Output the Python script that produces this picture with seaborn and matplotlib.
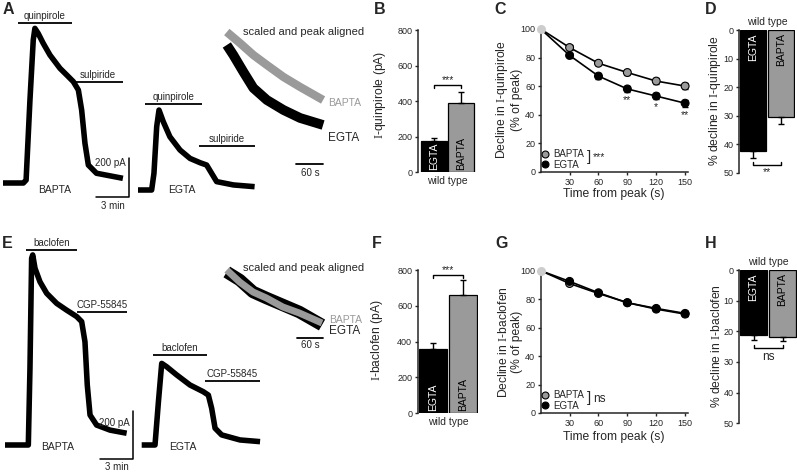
import numpy as np
import pandas as pd
import matplotlib
matplotlib.use("Agg")
import matplotlib.pyplot as plt
from matplotlib.lines import Line2D
import seaborn as sns

# ---------------- values ----------------
# A: quinpirole recordings (time in min, current in pA)
qb_t = [0, 1.85, 2.1, 2.45, 2.75, 2.9, 3.2, 3.66, 4.27, 5.18, 5.79, 6.39, 6.85, 7.15, 7.45, 7.76, 8.5, 10.9]
qb_i = [0, 0, 15, 425, 733, 793, 767, 716, 656, 588, 554, 520, 477, 374, 204, 92, 50, 24]
qe_t = [0, 1.24, 1.45, 1.7, 1.91, 2.3, 2.9, 3.82, 4.73, 5.64, 6.24, 6.7, 7.15, 8.67, 10.6]
qe_i = [0, 0, 85, 325, 410, 350, 273, 205, 162, 140, 128, 85, 43, 26, 17]
qb_quin = (1.36, 6.27)
qb_sulp = (6.27, 10.9)
qe_quin = (0.64, 5.82)
qe_sulp = (5.55, 10.64)
# A inset: scaled and peak aligned (s, scaled units)
qsc_b_t = [4, 33, 63, 93, 130, 167, 218]
qsc_b = [96, 85, 73, 63, 51, 41, 28]
qsc_e_t = [4, 18.5, 41, 63, 93, 130, 167, 218]
qsc_e = [83, 73, 56, 40, 28, 18, 10, 3]

# E: baclofen recordings
bb_t = [0, 2.12, 2.27, 2.42, 2.52, 2.73, 3.18, 3.79, 4.7, 5.6, 6.52, 6.97, 7.27, 7.48, 7.73, 8.33, 9.55, 11.06]
bb_i = [0, 0, 320, 778, 792, 736, 680, 632, 590, 562, 535, 514, 430, 250, 125, 83, 62, 49]
be_t = [0, 1.21, 1.52, 1.82, 2.27, 3.18, 4.39, 5.6, 6.06, 6.36, 6.67, 7.27, 8.94, 10.76]
be_i = [0, 0, 180, 340, 326, 292, 250, 222, 208, 153, 70, 42, 21, 14]
bb_bac = (1.91, 6.55)
bb_cgp = (6.55, 11.09)
be_bac = (1.03, 5.94)
be_cgp = (5.75, 10.75)
bsc_t = [4, 33, 63, 93, 130, 167, 218]
bsc_b = [100, 88, 78, 72, 63, 57, 47]
bsc_e = [98, 90, 78, 72, 65, 58, 45]

# bar charts
conds = ["EGTA", "BAPTA"]
quin_amp = [175, 392]
quin_amp_err = [19, 60]
quin_dec = [42.3, 30.6]
quin_dec_err = [2.4, 2.4]
bac_amp = [359, 660]
bac_amp_err = [32, 83]
bac_dec = [21.3, 21.9]
bac_dec_err = [1.5, 1.4]

# decline over time (% of peak)
time_s = [0, 30, 60, 90, 120, 150]
quin_bapta = [100, 87, 76, 69.5, 63.5, 60]
quin_bapta_err = [0, 1.5, 1.5, 2, 2, 2]
quin_egta = [100, 81.5, 67, 58, 53, 48]
quin_egta_err = [0, 1.5, 2, 2, 2, 2.5]
quin_stars = {90: "**", 120: "*", 150: "**"}
bac_bapta = [100, 91, 84, 77.5, 73, 69.5]
bac_bapta_err = [0, 1, 1, 1, 1, 1]
bac_egta = [100, 92.5, 84.5, 77.5, 73.5, 70]
bac_egta_err = [0, 1.2, 1.2, 1.2, 1.2, 1.5]

GRAY = "#9a9a9a"
LIGHT = "#cdcdcd"

sns.set_style("ticks")
plt.rcParams["font.family"] = ["Liberation Sans", "DejaVu Sans"]
plt.rcParams["mathtext.fontset"] = "custom"
plt.rcParams["mathtext.rm"] = "Liberation Serif"
plt.rcParams["axes.linewidth"] = 1.1
plt.rcParams["xtick.major.width"] = 1.0
plt.rcParams["ytick.major.width"] = 1.0
plt.rcParams["xtick.major.size"] = 2.5
plt.rcParams["ytick.major.size"] = 2.5
plt.rcParams["xtick.major.pad"] = 2
plt.rcParams["ytick.major.pad"] = 1.5
plt.rcParams["xtick.labelsize"] = 6.5
plt.rcParams["ytick.labelsize"] = 6.5

W, H = 797, 475
fig = plt.figure(figsize=(W / 100, H / 100), dpi=100)


def px_axes(l, t, r, b):
    return fig.add_axes([l / W, 1 - b / H, (r - l) / W, (b - t) / H])


def ftext(x, y, s, **kw):
    kw.setdefault("ha", "center")
    kw.setdefault("va", "center")
    fig.text(x / W, 1 - y / H, s, **kw)


def trace_axes(l, t, r, b, x0, y0, sx, sy):
    ax = px_axes(l, t, r, b)
    ax.set_xlim((l - x0) / sx, (r - x0) / sx)
    ax.set_ylim((y0 - b) / sy, (y0 - t) / sy)
    ax.axis("off")
    return ax


def trace(ax, t, i, color="k", lw=4.0):
    sns.lineplot(x=t, y=i, color=color, lw=lw, estimator=None, sort=False,
                 solid_joinstyle="round", solid_capstyle="butt", ax=ax)
    ax.axis("off")


def drug(ax, span, level, name):
    ax.plot(span, [level, level], color="k", lw=1.3, solid_capstyle="butt")
    ax.annotate(name, ((span[0] + span[1]) / 2, level), xytext=(0, 1.5),
                textcoords="offset points", ha="center", va="bottom", fontsize=7)


def scalebar(ax, x, y, dx, dy, frac):
    ax.plot([x - dx, x, x], [y, y, y + dy], color="k", lw=1.1)
    ax.annotate("200 pA", (x, y + dy * frac), xytext=(-2.5, 0), textcoords="offset points",
                ha="right", va="center", fontsize=7)
    ax.annotate("3 min", (x - dx / 2, y), xytext=(0, -2.5), textcoords="offset points",
                ha="center", va="top", fontsize=7)


# ---------------- A ----------------
ax = trace_axes(0, 5, 140, 215, 3, 183, 11, 0.195)
trace(ax, qb_t, qb_i)
drug(ax, qb_quin, 820, "quinpirole")
drug(ax, qb_sulp, 518, "sulpiride")
scalebar(ax, 11.45, -72, 3, 200, 0.87)
ftext(55, 190, "BAPTA", fontsize=7.5)

ax = trace_axes(134, 90, 262, 215, 138, 190, 11, 0.195)
trace(ax, qe_t, qe_i)
drug(ax, qe_quin, 441, "quinpirole")
drug(ax, qe_sulp, 226, "sulpiride")
ftext(182, 190, "EGTA", fontsize=7.5)

ax = trace_axes(220, 15, 340, 185, 225, 128, 0.45, 1)
trace(ax, qsc_b_t, qsc_b, color=GRAY, lw=6)
trace(ax, qsc_e_t, qsc_e, color="k", lw=7)
ax.plot([158, 218], [-36, -36], color="k", lw=1.3)
ftext(310, 173, "60 s", fontsize=7)
ftext(243, 32, "scaled and peak aligned", ha="left", fontsize=8)
ftext(328, 103, "BAPTA", ha="left", fontsize=7.5, color=GRAY)
ftext(328, 138, "EGTA", ha="left", fontsize=8.5)

# ---------------- E ----------------
ax = trace_axes(0, 238, 140, 472, 5, 445, 11, 0.24)
trace(ax, bb_t, bb_i)
drug(ax, bb_bac, 812, "baclofen")
drug(ax, bb_cgp, 554, "CGP-55845")
scalebar(ax, 11.64, -58, 3, 200, 0.75)
ftext(58, 447, "BAPTA", fontsize=7.5)

ax = trace_axes(138, 340, 265, 472, 141.7, 445, 11, 0.24)
trace(ax, be_t, be_i)
drug(ax, be_bac, 375, "baclofen")
drug(ax, be_cgp, 267, "CGP-55845")
ftext(183, 447, "EGTA", fontsize=7.5)

ax = trace_axes(220, 245, 340, 350, 225, 370, 0.445, 1)
trace(ax, bsc_t, bsc_e, color="k", lw=9)
trace(ax, bsc_t, bsc_b, color=GRAY, lw=5)
ax.plot([162, 220], [32, 32], color="k", lw=1.3)
ftext(310, 345, "60 s", fontsize=7)
ftext(243, 268, "scaled and peak aligned", ha="left", fontsize=8)
ftext(329, 320, "BAPTA", ha="left", fontsize=7.5, color=GRAY)
ftext(329, 331, "EGTA", ha="left", fontsize=8.5)


# ---------------- bar panels ----------------
def bar_panel(box, vals, errs, ylim, yticks, xlim, ylabel, label_x, label_y, stat, stat_y, inverted):
    ax = px_axes(*box)
    df = pd.DataFrame({"cond": conds, "val": vals})
    sns.barplot(data=df, x="cond", y="val", hue="cond", palette=["black", GRAY], saturation=1,
                edgecolor="black", linewidth=0.9, width=0.94, legend=False, ax=ax)
    ax.errorbar([0, 1], vals, yerr=[[0, 0], errs], fmt="none", ecolor="k",
                elinewidth=1, capsize=2, capthick=1)
    ax.set_ylim(*ylim)
    ax.set_xlim(*xlim)
    ax.set_yticks(yticks)
    ax.set_xticks([])
    ax.set_xlabel("")
    ax.set_ylabel(ylabel, fontsize=8.7)
    ax.yaxis.set_label_coords(label_x / W, 1 - label_y / H, transform=fig.transFigure)
    sns.despine(ax=ax, bottom=True)
    for i, (c, col) in enumerate(zip(conds, ["white", "black"])):
        if inverted:
            ax.annotate(c, (i, 0), xytext=(0, -2.5), textcoords="offset points", rotation=90,
                        ha="center", va="top", color=col, fontsize=7.5)
        else:
            ax.annotate(c, (i, 0), xytext=(0, 2), textcoords="offset points", rotation=90,
                        ha="center", va="bottom", color=col, fontsize=7.5)
    h = 0.02 * abs(ylim[1] - ylim[0])
    ax.plot([0, 0, 1, 1], [stat_y - h, stat_y, stat_y, stat_y - h], color="k", lw=1, clip_on=False)
    if inverted:
        ax.annotate(stat, (0.5, stat_y), xytext=(0, -2), textcoords="offset points",
                    ha="center", va="top", fontsize=7.5 if stat != "ns" else 8.5)
        ax.annotate("wild type", (0.5, 0), xytext=(0, 2.5), textcoords="offset points",
                    ha="center", va="bottom", fontsize=7.5)
    else:
        ax.annotate(stat, (0.5, stat_y), xytext=(0, 0), textcoords="offset points",
                    ha="center", va="bottom", fontsize=7.5)
        ax.annotate("wild type", (0.5, 0), xytext=(0, -3), textcoords="offset points",
                    ha="center", va="top", fontsize=7.5)
    return ax


bar_panel((418.3, 30, 477, 172.3), quin_amp, quin_amp_err, (0, 800), [0, 200, 400, 600, 800],
          (-0.58, 1.58), "$\\mathrm{I}$-quinpirole (pA)", 388, 95, "***", 488, False)
bar_panel((739.3, 30, 795, 172.7), quin_dec, quin_dec_err, (50, 0), [0, 10, 20, 30, 40, 50],
          (-0.51, 1.52), "% decline in $\\mathrm{I}$-quinpirole", 723, 101, "**", 47.2, True)
bar_panel((417.7, 270, 478, 413.3), bac_amp, bac_amp_err, (0, 800), [0, 200, 400, 600, 800],
          (-0.51, 1.5), "$\\mathrm{I}$-baclofen (pA)", 385, 340, "***", 770, False)
bar_panel((739.3, 270, 797, 423.3), bac_dec, bac_dec_err, (50, 0), [0, 10, 20, 30, 40, 50],
          (-0.49, 1.5), "% decline in $\\mathrm{I}$-baclofen", 723, 346, "ns", 25.5, True)


# ---------------- decline over time ----------------
def decline_panel(box, bapta, bapta_err, egta, egta_err, ylabel, label_y, xlab_y, stat, stars):
    ax = px_axes(*box)
    for vals, errs in [(bapta, bapta_err), (egta, egta_err)]:
        ax.errorbar(time_s[1:], vals[1:], yerr=errs[1:], fmt="none", ecolor="k",
                    elinewidth=1, capsize=2, capthick=1, zorder=2)
        sns.lineplot(x=time_s, y=vals, color="k", lw=1.2, estimator=None, ax=ax, zorder=2)
    df = pd.DataFrame({
        "time": time_s[1:] * 2,
        "value": bapta[1:] + egta[1:],
        "cond": ["BAPTA"] * 5 + ["EGTA"] * 5,
    })
    sns.scatterplot(data=df, x="time", y="value", hue="cond",
                    palette={"BAPTA": GRAY, "EGTA": "black"}, s=32, edgecolor="k",
                    linewidth=0.8, legend=False, zorder=3, clip_on=False, ax=ax)
    ax.scatter([time_s[0]], [bapta[0]], s=30, color=LIGHT, zorder=4, clip_on=False)
    ax.set_xlim(0, 153)
    ax.set_ylim(0, 100)
    ax.set_xticks([30, 60, 90, 120, 150])
    ax.set_yticks([0, 20, 40, 60, 80, 100])
    ax.set_xlabel("Time from peak (s)", fontsize=8.7)
    ax.set_ylabel(ylabel, fontsize=8.7, linespacing=1.1)
    ax.yaxis.set_label_coords(523 / W, 1 - label_y / H, transform=fig.transFigure)
    ax.xaxis.set_label_coords(614 / W, 1 - xlab_y / H, transform=fig.transFigure)
    sns.despine(ax=ax)
    handles = [Line2D([], [], marker="o", ls="", mfc=GRAY, mec="k", ms=5, mew=0.8),
               Line2D([], [], marker="o", ls="", mfc="k", mec="k", ms=5, mew=0.8)]
    ax.legend(handles, ["BAPTA", "EGTA"], loc="lower left", bbox_to_anchor=(0.0, 0.015),
              frameon=False, fontsize=7, handlelength=0.8, handletextpad=0.45,
              labelspacing=0.05, borderpad=0, borderaxespad=0)
    ax.annotate("]", (0.325, 0.105), xycoords="axes fraction", ha="center", va="center",
                fontsize=11)
    ax.annotate(stat, (0.355, 0.1), xycoords="axes fraction", ha="left", va="center",
                fontsize=7.5 if stat != "ns" else 8.5)
    for t, s in stars.items():
        k = time_s.index(t)
        ax.annotate(s, (t, egta[k] - egta_err[k]), xytext=(0, -2.5), textcoords="offset points",
                    ha="center", va="top", fontsize=7.5)
    return ax


decline_panel((540.7, 29, 688, 171.7), quin_bapta, quin_bapta_err, quin_egta, quin_egta_err,
              "Decline in $\\mathrm{I}$-quinpirole\n(% of peak)", 100, 188, "***", quin_stars)
decline_panel((540.7, 270.7, 688, 413), bac_bapta, bac_bapta_err, bac_egta, bac_egta_err,
              "Decline in $\\mathrm{I}$-baclofen\n(% of peak)", 342, 431, "ns", {})

# panel letters
for letter, x, y in [("A", 8, 10), ("B", 380, 10), ("C", 500, 9), ("D", 711, 9),
                     ("E", 7, 244), ("F", 377, 244), ("G", 502, 244), ("H", 711, 244)]:
    ftext(x, y, letter, fontsize=11.5, fontweight="bold")

fig.savefig("out.png", dpi=100)
